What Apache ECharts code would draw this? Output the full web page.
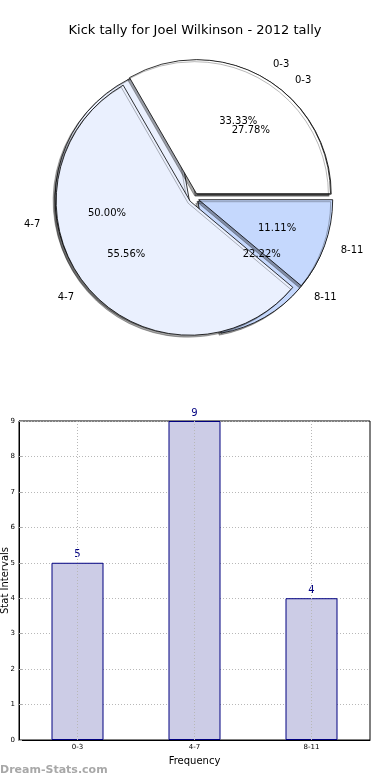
<!DOCTYPE html>
<html>
<head>
<meta charset="utf-8">
<script src="https://cdn.jsdelivr.net/npm/echarts@6/dist/echarts.min.js"></script>
<style>
html,body{margin:0;padding:0;background:#fff;}
#c{width:390px;height:780px;}
</style>
</head>
<body>
<div id="c"></div>
<script>
const titleText = 'Kick tally for Joel Wilkinson - 2012 tally';
const categories = ['0-3', '4-7', '8-11'];
const barValues = [5, 9, 4];
const pieTopValues = [3, 5, 1];      // 33.33% / 55.56% / 11.11%
const pieUnderValues = [5, 9, 4];    // 27.78% / 50.00% / 22.22%
const pieColors = ['#ffffff', '#eaf0fe', '#c5d8fd'];
const yMin = 0, yMax = 9, yStep = 1;
const xAxisName = 'Frequency';
const yAxisName = 'Stat Intervals';
const watermark = 'Dream-Stats.com';

const FONT = 'DejaVu Sans';
const PIE_CENTER = [194, 198];
const PIE_R = 134;
const OFFSET = 5;

function pieData(vals) {
  return vals.map((v, i) => ({ name: categories[i], value: v, selected: true,
    itemStyle: { color: pieColors[i] } }));
}
function pctData(vals) {
  return vals.map((v, i) => ({ name: categories[i], value: v, selected: true }));
}
const pctFmt = p => p.percent.toFixed(2) + '%';

function slicePie(vals) {
  return {
    type: 'pie', center: PIE_CENTER, radius: [0, PIE_R],
    startAngle: 0, clockwise: false, silent: true, animation: false,
    selectedMode: 'multiple', selectedOffset: OFFSET, avoidLabelOverlap: false,
    labelLayout: { hideOverlap: false },
    data: pieData(vals),
    itemStyle: { borderColor: '#000', borderWidth: 0.8,
      shadowColor: 'rgba(0,0,0,0.35)', shadowBlur: 0, shadowOffsetX: -2, shadowOffsetY: 2 },
    label: { show: true, position: 'outside', formatter: '{b}', fontFamily: FONT,
      fontSize: 10, color: '#000', distanceToLabelLine: 2 },
    labelLine: { show: false, length: 15, length2: 0 },
    emphasis: { disabled: true }
  };
}
function pctPie(vals) {
  return {
    type: 'pie', center: PIE_CENTER, radius: [0, PIE_R * 1.2],
    startAngle: 0, clockwise: false, silent: true, animation: false,
    selectedMode: 'multiple', selectedOffset: OFFSET, avoidLabelOverlap: false,
    labelLayout: { hideOverlap: false },
    data: pctData(vals),
    itemStyle: { color: 'rgba(0,0,0,0)', borderWidth: 0 },
    label: { show: true, position: 'inside', formatter: pctFmt, fontFamily: FONT,
      fontSize: 10, color: '#000' },
    labelLine: { show: false },
    emphasis: { disabled: true }
  };
}

const chart = echarts.init(document.getElementById('c'));
chart.setOption({
  animation: false,
  backgroundColor: '#fff',
  title: { text: titleText, left: 'center', top: 19,
    textStyle: { fontFamily: FONT, fontSize: 13, fontWeight: 'normal', color: '#000' } },
  graphic: [{ type: 'text', left: 0, top: 765,
    style: { text: watermark, fontFamily: FONT, fontSize: 11, fontWeight: 'bold', fill: '#a8a8a8' } }],
  grid: { left: 19, right: 20, top: 421, bottom: 40, show: true, borderColor: '#000', borderWidth: 1,
    containLabel: false, outerBoundsMode: 'none' },
  xAxis: {
    type: 'category', data: categories,
    name: xAxisName, nameLocation: 'middle', nameGap: 16, nameMoveOverlap: false,
    nameTextStyle: { fontFamily: FONT, fontSize: 10, color: '#000' },
    axisLine: { lineStyle: { color: '#000', width: 1 } },
    axisTick: { show: true, alignWithLabel: true, inside: true, length: 3, lineStyle: { color: '#aaa' } },
    axisLabel: { fontFamily: FONT, fontSize: 7, color: '#000', margin: 4 },
    splitLine: { show: false }
  },
  yAxis: {
    type: 'value', min: yMin, max: yMax, interval: yStep,
    name: yAxisName, nameLocation: 'middle', nameGap: 9, nameMoveOverlap: false,
    nameTextStyle: { fontFamily: FONT, fontSize: 10, color: '#000' },
    axisLine: { show: true, lineStyle: { color: '#000', width: 1 } },
    axisTick: { show: true, inside: true, length: 3, lineStyle: { color: '#aaa' } },
    axisLabel: { fontFamily: FONT, fontSize: 7, color: '#000', margin: 4 },
    splitLine: { show: true, lineStyle: { color: '#b8b8b8', type: [1, 2], width: 1 } }
  },
  series: [
    slicePie(pieUnderValues),
    slicePie(pieTopValues),
    pctPie(pieTopValues),
    pctPie(pieUnderValues),
    {
      type: 'bar', data: barValues, barWidth: 52, silent: true,
      itemStyle: { color: '#ccccE6', borderColor: '#000080', borderWidth: 1 },
      label: { show: true, position: 'top', distance: 3, fontFamily: FONT, fontSize: 10, color: '#000080' },
      markLine: {
        silent: true, symbol: 'none', label: { show: false },
        lineStyle: { color: '#b8b8b8', type: [1, 2], width: 1 },
        data: categories.map(c => ({ xAxis: c }))
      }
    }
  ]
});
</script>
</body>
</html>
